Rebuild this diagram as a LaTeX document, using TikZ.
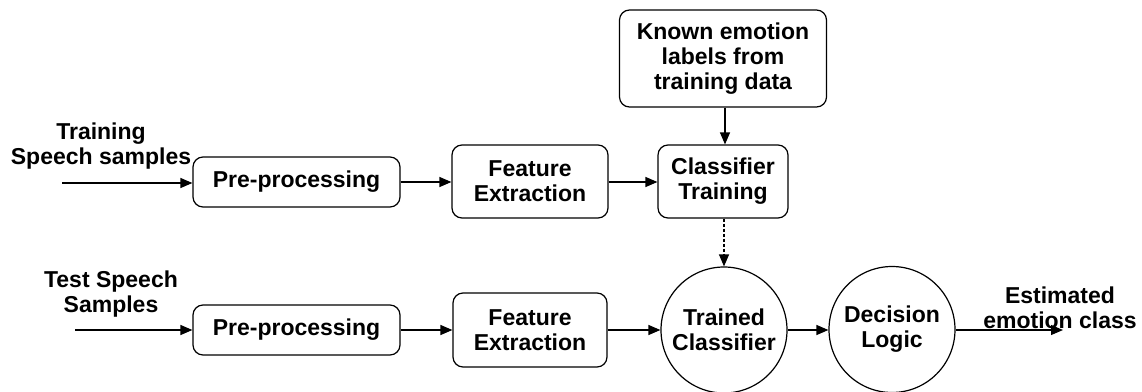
\documentclass[tikz,border=0pt]{standalone}
\usepackage{fontspec}
\setmainfont{Liberation Sans}
\usetikzlibrary{arrows.meta}
\begin{document}
\begin{tikzpicture}[x=1pt,y=-1pt,
  every node/.style={font=\bfseries\fontsize{23}{25}\selectfont, align=center, inner sep=0pt},
  rbox/.style={draw, line width=1.2pt, rounded corners=10pt},
  circ/.style={draw, line width=1.2pt, circle, minimum size=126pt},
  arr/.style={line width=1.2pt, -{Triangle[length=12pt,width=10pt]}},
  lbl/.style={}]
\useasboundingbox (0,0) rectangle (1142,391);
% top row
\node[rbox, minimum width=207pt, minimum height=50pt] (pp1) at (296.5,182) {Pre-processing};
\node[rbox, minimum width=156pt, minimum height=73pt] (fe1) at (530,181.5) {Feature\\Extraction};
\node[rbox, minimum width=130pt, minimum height=73pt] (ct) at (723,181.5) {Classifier\\Training};
\node[rbox, minimum width=207pt, minimum height=97pt] (kn) at (723,58.5) {Known emotion\\labels from\\training data};
% bottom row
\node[rbox, minimum width=207pt, minimum height=50pt] (pp2) at (296.5,330) {Pre-processing};
\node[rbox, minimum width=154pt, minimum height=74pt] (fe2) at (530,330) {Feature\\Extraction};
\node[circ] (tc) at (724,330) {Trained\\Classifier};
\node[circ] (dl) at (892,329.5) {Decision\\Logic};
% labels
\node[lbl] (tl) at (101,146) {Training\\Speech samples};
\node[lbl] (sl) at (111,294) {Test Speech\\Samples};
\node[lbl] (ol) at (1060,308) {Estimated\\emotion class};
% coordinates
\coordinate (tin) at (62,183);
\coordinate (sin) at (75,330);
\coordinate (out) at (1063,330);
% connectors
\draw[arr] (tin) -- (pp1.west |- tin);
\draw[arr] (pp1.east |- 0,182) -- (fe1.west |- 0,182);
\draw[arr] (fe1.east |- 0,182) -- (ct.west |- 0,182);
\draw[arr] (kn.south -| 725,0) -- (ct.north -| 725,0);
\draw[arr, dash pattern=on 3pt off 2pt] (ct.south -| 724,0) -- (tc.north);
\draw[arr] (sin) -- (pp2.west |- sin);
\draw[arr] (pp2) -- (fe2);
\draw[arr] (fe2) -- (tc);
\draw[arr] (tc.east) -- (dl.west |- tc.east);
\draw[arr] (dl.east |- out) -- (out);
\end{tikzpicture}
\end{document}
